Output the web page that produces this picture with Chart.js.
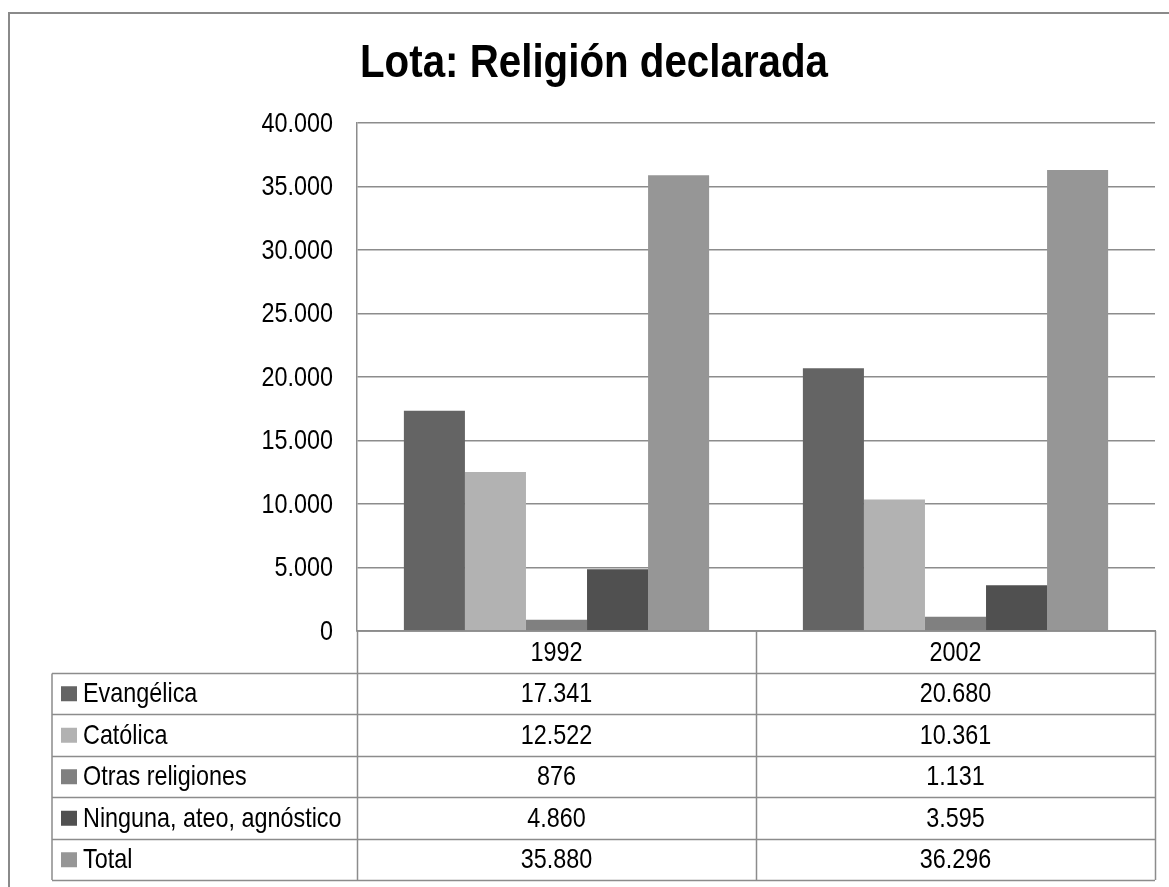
<!DOCTYPE html>
<html>
<head>
<meta charset="utf-8">
<script src="https://cdn.jsdelivr.net/npm/chart.js@4/dist/chart.umd.min.js"></script>
<style>
  html, body { margin: 0; padding: 0; background: #fff; }
</style>
</head>
<body>
<canvas id="chart" width="1169" height="887"></canvas>
<script>
// data
const years = ['1992', '2002'];
const seriesNames = ['Evangélica', 'Católica', 'Otras religiones', 'Ninguna, ateo, agnóstico', 'Total'];
const evangelica = [17341, 20680];
const catolica = [12522, 10361];
const otras = [876, 1131];
const ninguna = [4860, 3595];
const total = [35880, 36296];
const seriesColors = ['#646464', '#b2b2b2', '#808080', '#505050', '#969696'];
const yMax = 40000;
const yStep = 5000;

// no narrow face installed, so squeeze Liberation Sans (Arial metrics) instead
const FONT = '"Liberation Sans", Arial, sans-serif';
const SQUEEZE = 0.82;
const TEXT_SIZE = 28.5;
const LINE = '#8c8c8c';

// 17341 -> "17.341"
function fmt(n) {
    return String(n).replace(/\B(?=(\d{3})+(?!\d))/g, '.');
}

function narrowText(ctx, text, x, y, align) {
    ctx.save();
    ctx.translate(x, y);
    ctx.scale(SQUEEZE, 1);
    ctx.textAlign = align;
    ctx.fillText(text, 0, 0);
    ctx.restore();
}

const seriesValues = [evangelica, catolica, otras, ninguna, total];

// frame round the whole chart (only left and top are in view)
const framePlugin = {
    id: 'frame',
    beforeDraw(chart) {
        const ctx = chart.ctx;
        ctx.save();
        ctx.fillStyle = '#fff';
        ctx.fillRect(0, 0, chart.width, chart.height);
        ctx.strokeStyle = '#8a8a8a';
        ctx.lineWidth = 2;
        ctx.strokeRect(9, 13, 1400, 1200);
        ctx.restore();
    }
};

// title, condensed bold
const titlePlugin = {
    id: 'narrowTitle',
    afterDraw(chart) {
        const ctx = chart.ctx;
        const text = 'Lota: Religión declarada';
        ctx.save();
        ctx.font = 'bold 47px ' + FONT;
        const w = ctx.measureText(text).width;
        const sx = Math.min(1, 468 / w);
        ctx.translate(594, 77);
        ctx.scale(sx, 1);
        ctx.fillStyle = '#000';
        ctx.textAlign = 'center';
        ctx.textBaseline = 'alphabetic';
        ctx.fillText(text, 0, 0);
        ctx.restore();
    }
};

// y tick labels, placed from the y scale's own ticks
const yLabelPlugin = {
    id: 'yLabels',
    afterDraw(chart) {
        const ctx = chart.ctx;
        const y = chart.scales.y;
        ctx.save();
        ctx.fillStyle = '#000';
        ctx.font = TEXT_SIZE + 'px ' + FONT;
        ctx.textBaseline = 'middle';
        y.ticks.forEach(t => {
            narrowText(ctx, fmt(t.value), chart.chartArea.left - 24, y.getPixelForValue(t.value) + 1, 'right');
        });
        ctx.restore();
    }
};

// data table under the plot, laid out on the x scale
const tablePlugin = {
    id: 'dataTable',
    afterDraw(chart) {
        const ctx = chart.ctx;
        const area = chart.chartArea;
        const x = chart.scales.x;
        const rowH = 41.5;
        const top = area.bottom;
        const labelLeft = 52;
        const catW = (area.right - area.left) / years.length;
        const nRows = seriesNames.length + 1;
        const bottom = top + rowH * nRows;

        ctx.save();
        ctx.strokeStyle = LINE;
        ctx.lineWidth = 1.5;
        ctx.beginPath();
        ctx.moveTo(area.left, top);
        ctx.lineTo(area.right, top);
        for (let r = 1; r <= nRows; r++) {
            const yy = Math.round(top + rowH * r) + 0.5;
            ctx.moveTo(labelLeft, yy);
            ctx.lineTo(area.right, yy);
        }
        ctx.moveTo(labelLeft, Math.round(top + rowH) + 0.5);
        ctx.lineTo(labelLeft, bottom);
        for (let i = 0; i <= years.length; i++) {
            const xx = Math.round(area.left + catW * i) + 0.5;
            ctx.moveTo(xx, top);
            ctx.lineTo(xx, bottom);
        }
        ctx.stroke();

        ctx.fillStyle = '#000';
        ctx.font = TEXT_SIZE + 'px ' + FONT;
        ctx.textBaseline = 'middle';
        years.forEach((yr, i) => {
            narrowText(ctx, yr, x.getPixelForValue(i), top + rowH / 2 + 1, 'center');
        });
        seriesNames.forEach((name, s) => {
            const cy = top + rowH * (s + 1.5) + 1;
            ctx.fillStyle = seriesColors[s];
            ctx.fillRect(61, cy - 8, 16, 15);
            ctx.fillStyle = '#000';
            narrowText(ctx, name, 83, cy, 'left');
            seriesValues[s].forEach((v, i) => {
                narrowText(ctx, fmt(v), x.getPixelForValue(i), cy, 'center');
            });
        });
        ctx.restore();
    }
};

const chart = new Chart(document.getElementById('chart'), {
    type: 'bar',
    data: {
        labels: years,
        datasets: seriesNames.map((name, s) => ({
            label: name,
            data: seriesValues[s],
            backgroundColor: seriesColors[s],
            borderWidth: 0,
            categoryPercentage: 0.765,
            barPercentage: 1
        }))
    },
    options: {
        responsive: false,
        animation: false,
        devicePixelRatio: 1,
        layout: { padding: { left: 0, top: 123, right: 14, bottom: 256 } },
        plugins: {
            legend: { display: false },
            title: { display: false },
            tooltip: { enabled: false }
        },
        scales: {
            x: {
                grid: { display: false, drawTicks: false },
                ticks: { display: false },
                border: { display: true, color: LINE, width: 1.5 },
                afterFit(scale) { scale.height = 0; }
            },
            y: {
                min: 0,
                max: yMax,
                ticks: { stepSize: yStep, display: false },
                grid: { color: LINE, lineWidth: 1.5, drawTicks: false },
                border: { display: true, color: LINE, width: 1.5 },
                afterFit(scale) { scale.width = 357; }
            }
        }
    },
    plugins: [framePlugin, titlePlugin, yLabelPlugin, tablePlugin]
});
</script>
</body>
</html>
